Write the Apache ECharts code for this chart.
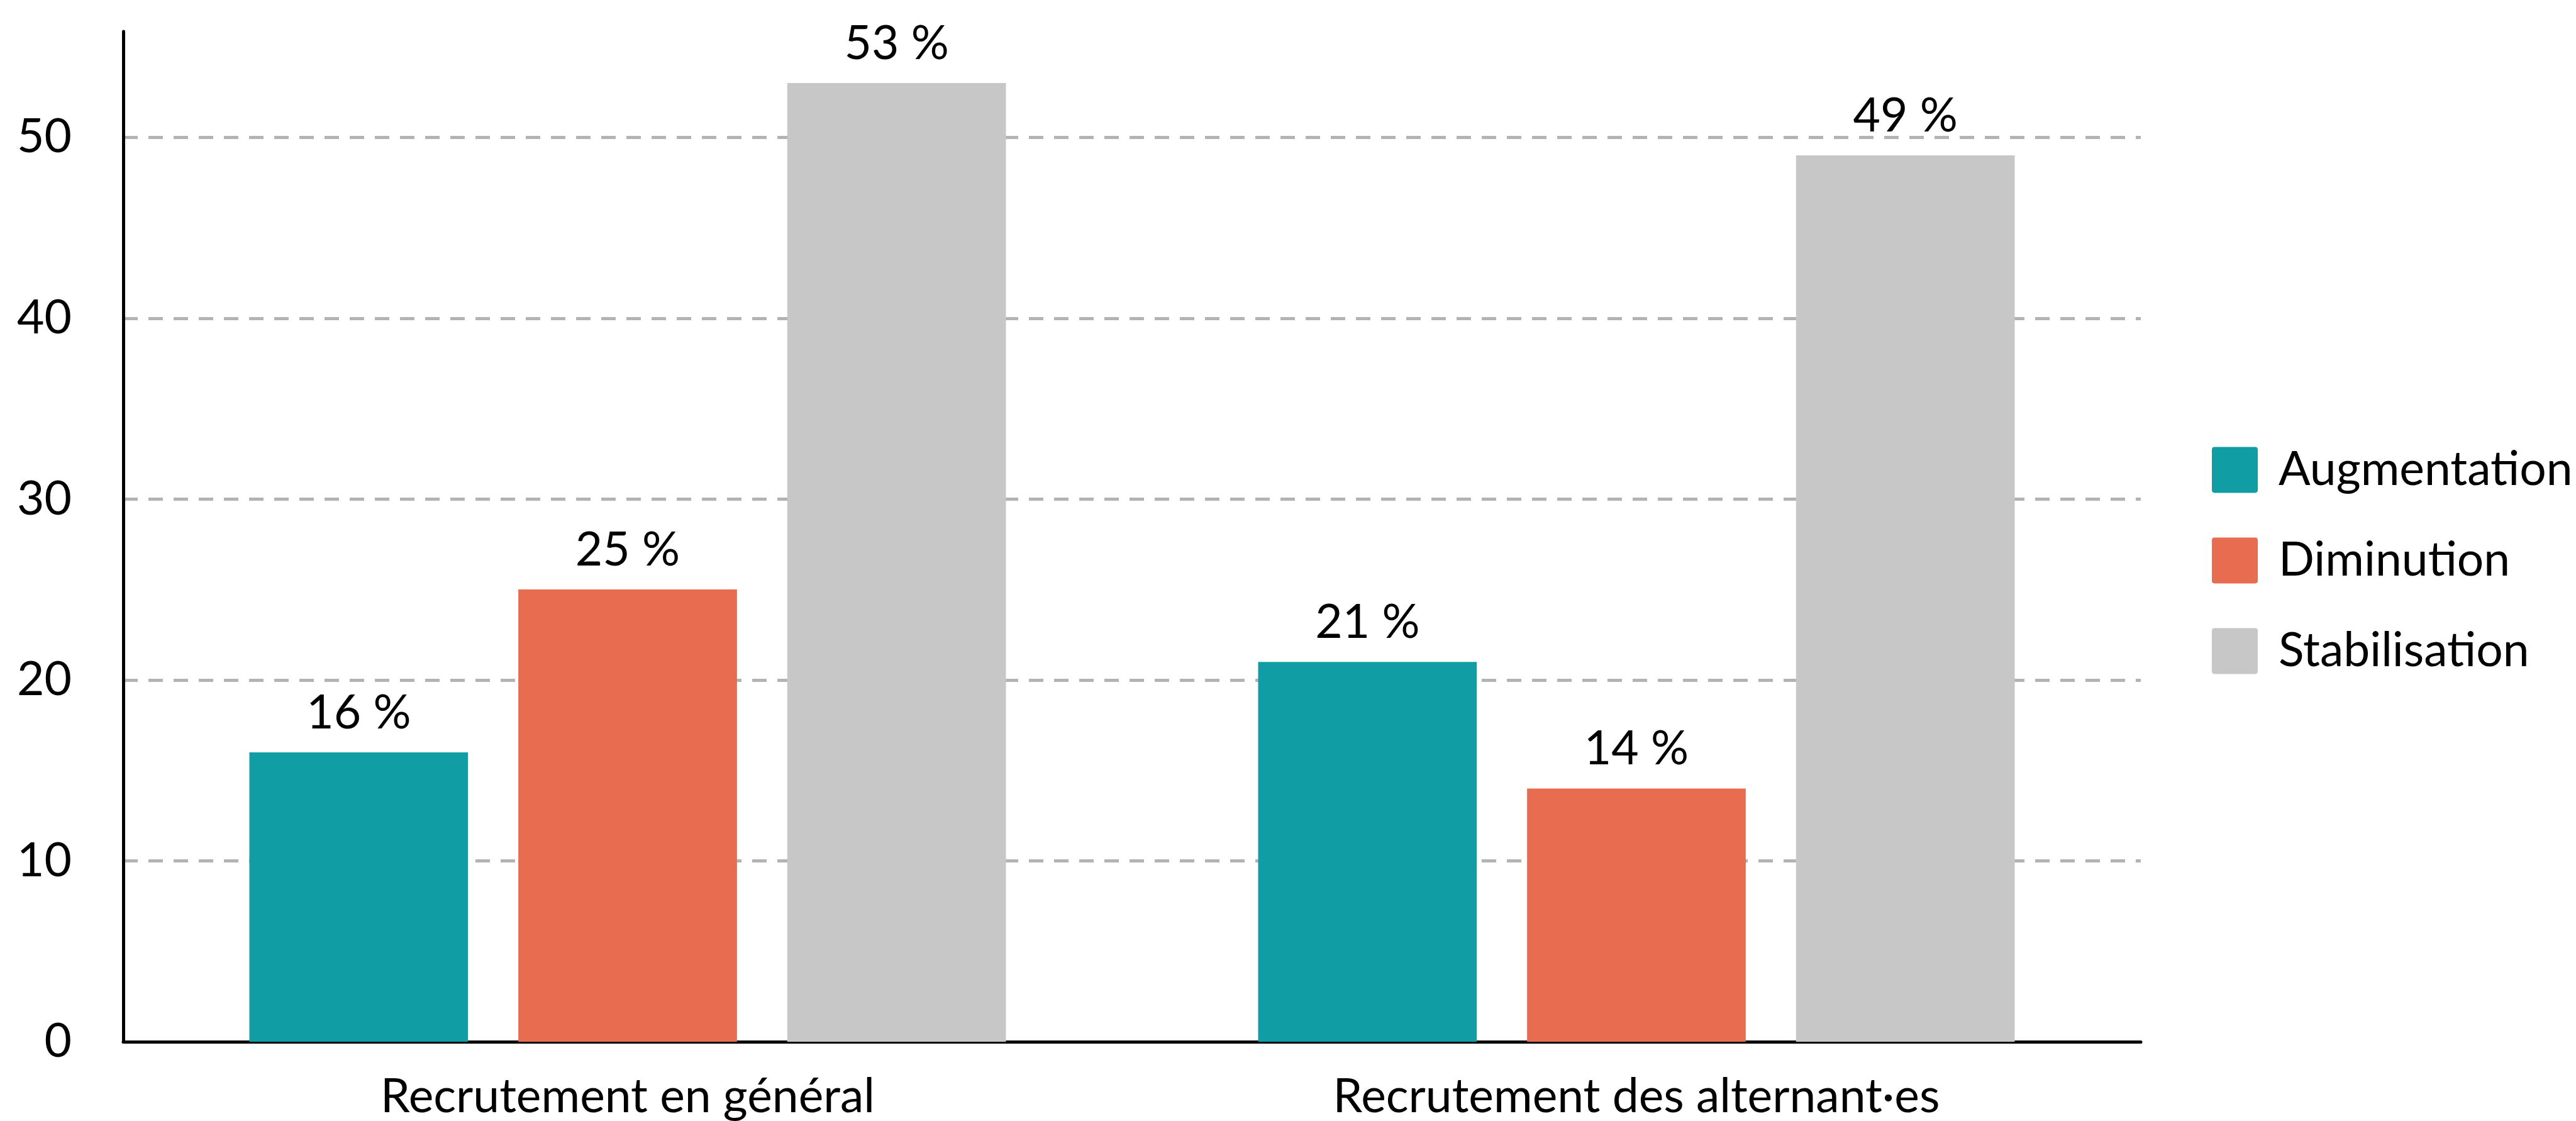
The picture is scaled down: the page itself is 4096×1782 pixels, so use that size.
<!DOCTYPE html>
<html>
<head>
    <meta charset="UTF-8">
    <title>Recrutement</title>
    <script src="https://cdn.jsdelivr.net/npm/echarts@6/dist/echarts.min.js"></script>
    <style>
        html, body { margin: 0; padding: 0; background: #fff; }
        #chart { width: 4096px; height: 1782px; }
    </style>
</head>
<body>
    <div id="chart"></div>
    <script>
        // data
        var categories = ['Recrutement en général', 'Recrutement des alternant·es'];
        var seriesNames = ['Augmentation', 'Diminution', 'Stabilisation'];
        var augmentation = [16, 21];
        var diminution = [25, 14];
        var stabilisation = [53, 49];
        var colors = ['#109ea4', '#e76c50', '#c7c7c7'];

        var font = 'Lato';
        var fs = 75;

        function barSeries(name, values, color) {
            return {
                name: name,
                type: 'bar',
                data: values,
                barGap: '23%',
                barCategoryGap: '25%',
                itemStyle: { color: color },
                label: {
                    show: true,
                    position: 'top',
                    distance: 25,
                    formatter: '{c} %',
                    color: '#000',
                    fontFamily: font,
                    fontSize: fs
                }
            };
        }

        var chart = echarts.init(document.getElementById('chart'), null, { renderer: 'canvas' });
        chart.setOption({
            animation: false,
            backgroundColor: '#fff',
            grid: { left: 196, right: 692, top: 50, bottom: 126, containLabel: false },
            legend: {
                orient: 'vertical',
                left: 3517,
                top: 'middle',
                padding: 0,
                itemWidth: 73,
                itemHeight: 73,
                itemGap: 69,
                icon: 'path://M6,0 H94 Q100,0 100,6 V94 Q100,100 94,100 H6 Q0,100 0,94 V6 Q0,0 6,0 Z',
                formatter: '{t|{name}}',
                textStyle: {
                    fontFamily: font, fontSize: fs, color: '#000',
                    rich: { t: { fontFamily: font, fontSize: fs, color: '#000', padding: [0, 0, 0, 28] } }
                },
                data: seriesNames
            },
            xAxis: {
                type: 'category',
                data: categories,
                axisLine: { lineStyle: { color: '#000', width: 5 } },
                axisTick: { show: false },
                axisLabel: { fontFamily: font, fontSize: fs, color: '#000', margin: 50 }
            },
            yAxis: {
                type: 'value',
                min: 0,
                max: 55.85,
                interval: 10,
                axisLine: { show: true, lineStyle: { color: '#000', width: 5 } },
                axisTick: { show: false },
                axisLabel: {
                    fontFamily: font, fontSize: fs, color: '#000', margin: 82,
                    showMaxLabel: false
                },
                splitLine: {
                    show: true,
                    showMinLine: false,
                    showMaxLine: false,
                    lineStyle: { color: '#b3b3b3', width: 5, type: [23, 17] }
                }
            },
            series: [
                barSeries(seriesNames[0], augmentation, colors[0]),
                barSeries(seriesNames[1], diminution, colors[1]),
                barSeries(seriesNames[2], stabilisation, colors[2])
            ]
        });
    </script>
</body>
</html>
